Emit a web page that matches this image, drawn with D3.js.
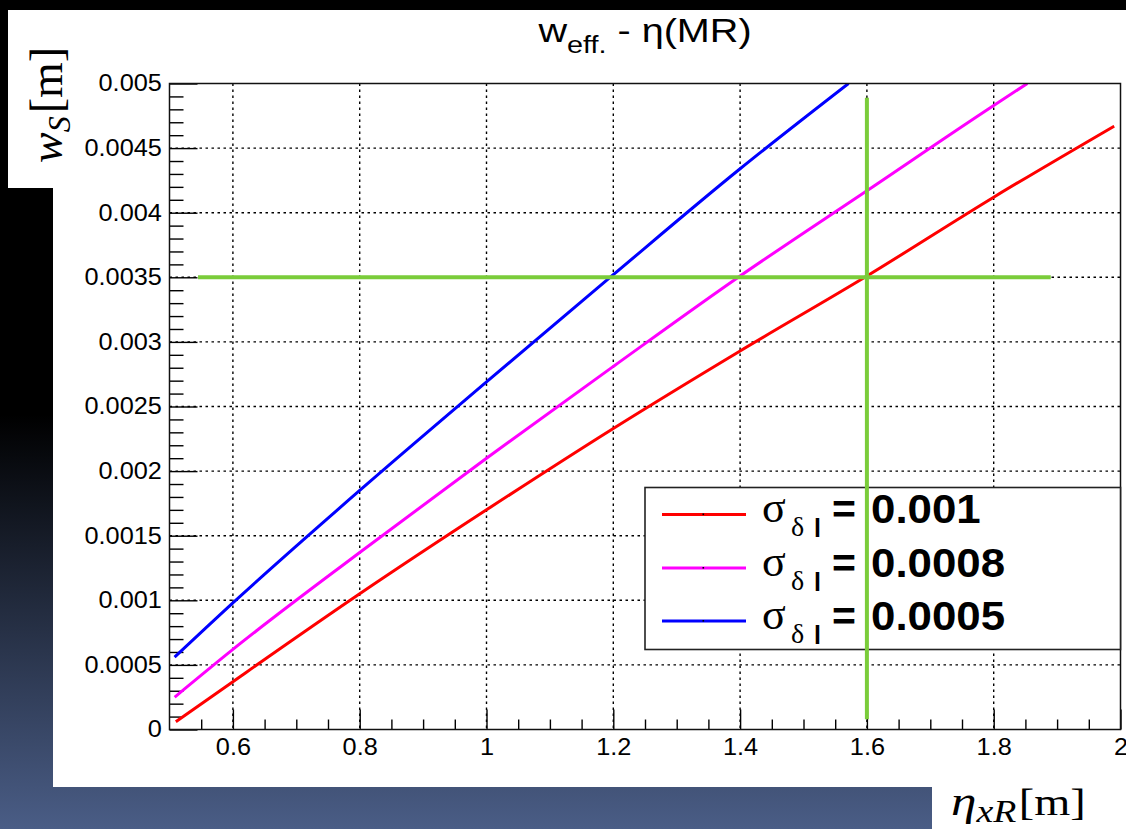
<!DOCTYPE html>
<html>
<head>
<meta charset="utf-8">
<script src="https://cdn.jsdelivr.net/npm/d3@7"></script>
<style>
  html, body { margin: 0; padding: 0; background: #000; overflow: hidden; }
  svg { display: block; }
</style>
</head>
<body>
<svg id="chart" width="1126" height="829"></svg>
<script>
// Effective width w_S versus dispersion eta_xR for three momentum spreads
const etaRed  = [0.51, 0.6, 0.8, 1.0, 1.2, 1.4, 1.6, 1.8, 1.99];
const wRed    = [0.00006, 0.00037, 0.00105, 0.00170, 0.00233, 0.00293, 0.00351, 0.00412, 0.00467];
const etaMag  = [0.508, 0.6, 0.8, 1.0, 1.2, 1.4, 1.6, 1.8, 1.853];
const wMag    = [0.00025, 0.00062, 0.00137, 0.00210, 0.00281, 0.00351, 0.00417, 0.00483, 0.005];
const etaBlue = [0.508, 0.6, 0.8, 1.0, 1.2, 1.4, 1.571];
const wBlue   = [0.00056, 0.00098, 0.00185, 0.00269, 0.00352, 0.00434, 0.005];

const sigmaValues = ["0.001", "0.0008", "0.0005"];
const seriesColors = ["#ff0000", "#ff00ff", "#0000ff"];

const xTickValues = [0.6, 0.8, 1.0, 1.2, 1.4, 1.6, 1.8, 2.0];
const xTickLabels = ["0.6", "0.8", "1", "1.2", "1.4", "1.6", "1.8", "2"];
const yTickValues = [0, 0.0005, 0.001, 0.0015, 0.002, 0.0025, 0.003, 0.0035, 0.004, 0.0045, 0.005];
const yTickLabels = ["0", "0.0005", "0.001", "0.0015", "0.002", "0.0025", "0.003", "0.0035", "0.004", "0.0045", "0.005"];

// working point marked by the crosshair
const pointEta = 1.6;
const pointW = 0.0035;
const crossEtaRange = [0.545, 1.89];
const crossWRange = [0.00008, 0.00489];

const W = 1126, H = 829;
const frame = { left: 169.5, right: 1120.5, top: 83.5, bottom: 729.5 };

const svg = d3.select("#chart");
const defs = svg.append("defs");

// slide background
const grad = defs.append("linearGradient").attr("id", "bg")
  .attr("x1", 0).attr("y1", 0).attr("x2", 0).attr("y2", 1);
grad.append("stop").attr("offset", "0").attr("stop-color", "#000");
grad.append("stop").attr("offset", "0.5").attr("stop-color", "#000");
grad.append("stop").attr("offset", "1").attr("stop-color", "#4a5d86");
svg.append("rect").attr("width", W).attr("height", H).attr("fill", "url(#bg)");

// white canvas of the plot and the box of the vertical title
svg.append("rect").attr("x", 53).attr("y", 10).attr("width", W - 53).attr("height", 777).attr("fill", "#fff");
svg.append("rect").attr("x", 8).attr("y", 10).attr("width", 60).attr("height", 178).attr("fill", "#fff");
// box of the horizontal title
svg.append("rect").attr("x", 932).attr("y", 786).attr("width", W - 932).attr("height", H - 786).attr("fill", "#fff");

const x = d3.scaleLinear().domain([0.5, 2.0]).range([frame.left, frame.right]);
const y = d3.scaleLinear().domain([0, 0.005]).range([frame.bottom, frame.top]);

defs.append("clipPath").attr("id", "plotclip").append("rect")
  .attr("x", frame.left).attr("y", frame.top)
  .attr("width", frame.right - frame.left).attr("height", frame.bottom - frame.top);

// dotted grid
const grid = svg.append("g").attr("stroke", "#000").attr("stroke-width", 1.4).attr("stroke-dasharray", "2.5,3.5");
grid.selectAll("line.gx").data(xTickValues.filter(v => v < 2.0)).join("line")
  .attr("x1", d => x(d)).attr("x2", d => x(d))
  .attr("y1", frame.top).attr("y2", frame.bottom);
grid.selectAll("line.gy").data(yTickValues.filter(v => v > 0 && v < 0.005)).join("line")
  .attr("x1", frame.left).attr("x2", frame.right)
  .attr("y1", d => y(d)).attr("y2", d => y(d));

// axes with inward ticks
const tickFont = "'Liberation Sans', Arial, sans-serif";
const yMinor = d3.range(0, 0.00501, 0.0001).filter(v => Math.abs(v / 0.0005 - Math.round(v / 0.0005)) > 1e-6);
const xMinor = d3.range(0.55, 2.0, 0.05).filter(v => Math.abs(v / 0.2 - Math.round(v / 0.2)) > 1e-6);

const yAxis = svg.append("g").attr("transform", `translate(${frame.left},0)`)
  .call(d3.axisLeft(y).tickValues(yTickValues).tickSize(-28).tickPadding(7)
    .tickFormat((d, i) => yTickLabels[i]));
const yAxisMinor = svg.append("g").attr("transform", `translate(${frame.left},0)`)
  .call(d3.axisLeft(y).tickValues(yMinor).tickSize(-14).tickFormat(""));
const xAxis = svg.append("g").attr("transform", `translate(0,${frame.bottom})`)
  .call(d3.axisBottom(x).tickValues(xTickValues).tickSize(-20).tickPadding(9)
    .tickFormat((d, i) => xTickLabels[i]));
const xAxisMinor = svg.append("g").attr("transform", `translate(0,${frame.bottom})`)
  .call(d3.axisBottom(x).tickValues(xMinor).tickSize(-10).tickFormat(""));

[yAxis, yAxisMinor, xAxis, xAxisMinor].forEach(g => {
  g.select(".domain").remove();
  g.selectAll(".tick line").attr("stroke", "#000").attr("stroke-width", 1.4);
  g.selectAll(".tick text")
    .attr("font-family", tickFont).attr("font-size", 23).attr("fill", "#000");
});
yAxis.selectAll(".tick text").attr("transform", "scale(1.1,1)");
xAxis.selectAll(".tick text").attr("transform", "scale(1.1,1)");

// curves
const series = [
  { eta: etaRed, w: wRed },
  { eta: etaMag, w: wMag },
  { eta: etaBlue, w: wBlue }
];
const line = d3.line().x(d => x(d[0])).y(d => y(d[1])).curve(d3.curveMonotoneX);
svg.append("g").attr("clip-path", "url(#plotclip)")
  .selectAll("path").data(series).join("path")
  .attr("d", s => line(d3.zip(s.eta, s.w)))
  .attr("fill", "none")
  .attr("stroke", (s, i) => seriesColors[i])
  .attr("stroke-width", 3);

// frame
svg.append("rect")
  .attr("x", frame.left).attr("y", frame.top)
  .attr("width", frame.right - frame.left).attr("height", frame.bottom - frame.top)
  .attr("fill", "none").attr("stroke", "#111").attr("stroke-width", 1.5);

// horizontal crosshair line
const green = "#7acc3a";
svg.append("line")
  .attr("x1", x(crossEtaRange[0])).attr("x2", x(crossEtaRange[1]))
  .attr("y1", y(pointW)).attr("y2", y(pointW))
  .attr("stroke", green).attr("stroke-width", 4);

// legend
const leg = { x: 645, y: 487.5, w: 475.5, h: 162, rowBase: [523, 576.5, 629.5] };
svg.append("rect").attr("x", leg.x).attr("y", leg.y).attr("width", leg.w).attr("height", leg.h)
  .attr("fill", "#fff").attr("stroke", "#222").attr("stroke-width", 1.6);
const rows = svg.append("g").selectAll("g").data(sigmaValues).join("g")
  .attr("transform", (d, i) => `translate(0,${leg.rowBase[i]})`);
rows.append("line").attr("x1", 662).attr("x2", 746).attr("y1", -8.5).attr("y2", -8.5)
  .attr("stroke", (d, i) => seriesColors[i]).attr("stroke-width", 3.2);
rows.append("rect").attr("x", 702.5).attr("y", -9.5).attr("width", 1.6).attr("height", 1.6).attr("fill", "#000");
rows.append("text").attr("x", 762).attr("y", -1)
  .attr("font-family", "'Liberation Serif', 'Times New Roman', serif").attr("font-size", 44)
  .attr("fill", "#000").text("σ");
rows.append("text").attr("x", 791).attr("y", 13)
  .attr("font-family", "'Liberation Serif', 'Times New Roman', serif").attr("font-size", 28)
  .attr("fill", "#000").text("δ");
rows.append("text").attr("x", 814).attr("y", 14)
  .attr("font-family", tickFont).attr("font-weight", "bold").attr("font-size", 25)
  .attr("fill", "#000").text("l");
rows.append("text").attr("x", 832).attr("y", 0)
  .attr("font-family", tickFont).attr("font-weight", "bold").attr("font-size", 41)
  .attr("fill", "#000").text("=");
rows.append("text").attr("transform", "translate(871,0) scale(1.07,1)")
  .attr("font-family", tickFont).attr("font-weight", "bold").attr("font-size", 41)
  .attr("fill", "#000").text(d => d);

// vertical crosshair line (drawn over the legend)
svg.append("line")
  .attr("x1", x(pointEta)).attr("x2", x(pointEta))
  .attr("y1", y(crossWRange[0])).attr("y2", y(crossWRange[1]))
  .attr("stroke", green).attr("stroke-width", 4);

// plot title
const title = svg.append("text")
  .attr("transform", "translate(645,41.7) scale(1.2,1)")
  .attr("text-anchor", "middle")
  .attr("font-family", tickFont).attr("font-size", 33).attr("fill", "#000");
title.append("tspan").text("w");
title.append("tspan").attr("font-size", 24).attr("dy", 11).text("eff.");
title.append("tspan").attr("dy", -11).text(" - η(MR)");

// axis titles
const serif = "'Liberation Serif', 'Times New Roman', serif";
const yTitle = svg.append("text")
  .attr("transform", "translate(62,163) rotate(-90)")
  .attr("font-family", serif).attr("font-size", 46).attr("fill", "#000");
yTitle.append("tspan").attr("font-style", "italic").text("w");
yTitle.append("tspan").attr("font-style", "italic").attr("font-size", 32).attr("dy", 8).text("S");
yTitle.append("tspan").attr("dy", -8).attr("dx", 3).text("[m]");

// horizontal axis title: eta with subscript xR, then the unit
const xTitle = svg.append("text")
  .attr("transform", "translate(951,815) scale(1.22,1)")
  .attr("font-family", serif).attr("font-size", 42).attr("fill", "#000");
xTitle.append("tspan").attr("font-style", "italic").text("η");
xTitle.append("tspan").attr("font-style", "italic").attr("font-size", 31).attr("dy", 7).text("xR");
xTitle.append("tspan").attr("dy", -7).attr("dx", 2).attr("font-size", 38).text("[m]");
</script>
</body>
</html>
